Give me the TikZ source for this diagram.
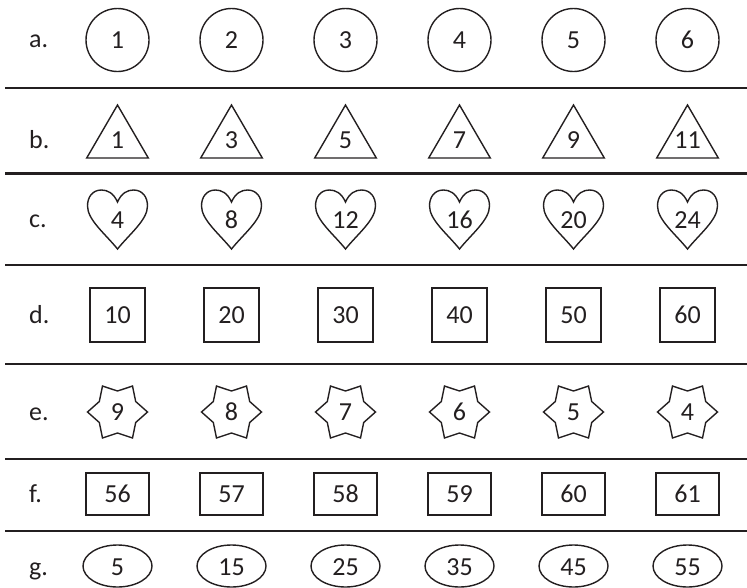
\documentclass[tikz,border=0pt]{standalone}
\usepackage{fontspec}
\setmainfont{Carlito}
\usetikzlibrary{shapes.geometric}
\definecolor{ink}{HTML}{231F20}
\begin{document}
\begin{tikzpicture}[x=1pt,y=-1pt,
  shp/.style={draw=ink, line width=1.4pt},
  sepline/.style={draw=ink, line width=2.2pt},
  num/.style={anchor=base, inner sep=0pt, text=ink, font=\fontsize{26}{30}\selectfont},
  lbl/.style={anchor=base west, inner sep=0pt, text=ink, font=\fontsize{26}{30}\selectfont},
  circ/.style={shp, circle, minimum size=63pt, inner sep=0pt},
  sqr/.style={shp, rectangle, minimum width=55pt, minimum height=54pt, inner sep=0pt},
  rct/.style={shp, rectangle, minimum width=63pt, minimum height=42pt, inner sep=0pt},
  ell/.style={shp, ellipse, minimum width=69pt, minimum height=42pt, inner sep=0pt}]
\useasboundingbox (0,0) rectangle (747,587);
% separators
\foreach \yy [count=\k] in {88,173.5,265,364,459,531}{
  \coordinate (sl\k) at (5,\yy);
  \coordinate (sr\k) at (747,\yy);
  \draw[sepline] (sl\k) -- (sr\k);
}
% labels
\node[lbl] (la) at (29,47.5) {a.};
\node[lbl] (lb) at (29,148) {b.};
\node[lbl] (lc) at (29,227) {c.};
\node[lbl] (ld) at (29,323) {d.};
\node[lbl] (le) at (29,420) {e.};
\node[lbl] (lf) at (29,502) {f.};
\node[lbl] (lg) at (29,575) {g.};
% row a
\foreach \n [count=\i from 0] in {1,2,3,4,5,6}{
  \node[circ] (a\n) at (117.5+114*\i,40) {};
  \node[num] (ta\n) at (117.5+114*\i,48) {\n};
}
% row b
\foreach \n [count=\i from 0] in {1,3,5,7,9,11}{
  \draw[shp, shift={(117.5+114*\i,0)}] (-30.8,158) -- (0,105) -- (30.8,158) -- cycle;
  \node[num] (tb\n) at (117.5+114*\i,148) {\n};
}
% row c
\foreach \n [count=\i from 0] in {4,8,12,16,20,24}{
  \draw[shp, shift={(117.5+114*\i,0)}] (0,202) .. controls (4,193) and (10,190) .. (16,190)
    .. controls (25,190) and (30,197) .. (30,206)
    .. controls (30,220) and (12,234) .. (0,249)
    .. controls (-12,234) and (-30,220) .. (-30,206)
    .. controls (-30,197) and (-25,190) .. (-16,190)
    .. controls (-10,190) and (-4,193) .. cycle;
  \node[num] (tc\n) at (117.5+114*\i,228) {\n};
}
% row d
\foreach \n [count=\i from 0] in {10,20,30,40,50,60}{
  \node[sqr] (d\n) at (117.5+114*\i,315) {};
  \node[num] (td\n) at (117.5+114*\i,323) {\n};
}
% row e
\foreach \n [count=\i from 0] in {9,8,7,6,5,4}{
  \draw[shp, shift={(117.5+114*\i,412)}] (0:30) -- (30:21) -- (60:30) -- (90:21) -- (120:30) -- (150:21)
    -- (180:30) -- (210:21) -- (240:30) -- (270:21) -- (300:30) -- (330:21) -- cycle;
  \node[num] (te\n) at (117.5+114*\i,420) {\n};
}
% row f
\foreach \n [count=\i from 0] in {56,57,58,59,60,61}{
  \node[rct] (f\n) at (117.5+114*\i,494) {};
  \node[num] (tf\n) at (117.5+114*\i,502) {\n};
}
% row g
\foreach \n [count=\i from 0] in {5,15,25,35,45,55}{
  \node[ell] (g\n) at (117.5+114*\i,566) {};
  \node[num] (tg\n) at (117.5+114*\i,575) {\n};
}
\end{tikzpicture}
\end{document}
